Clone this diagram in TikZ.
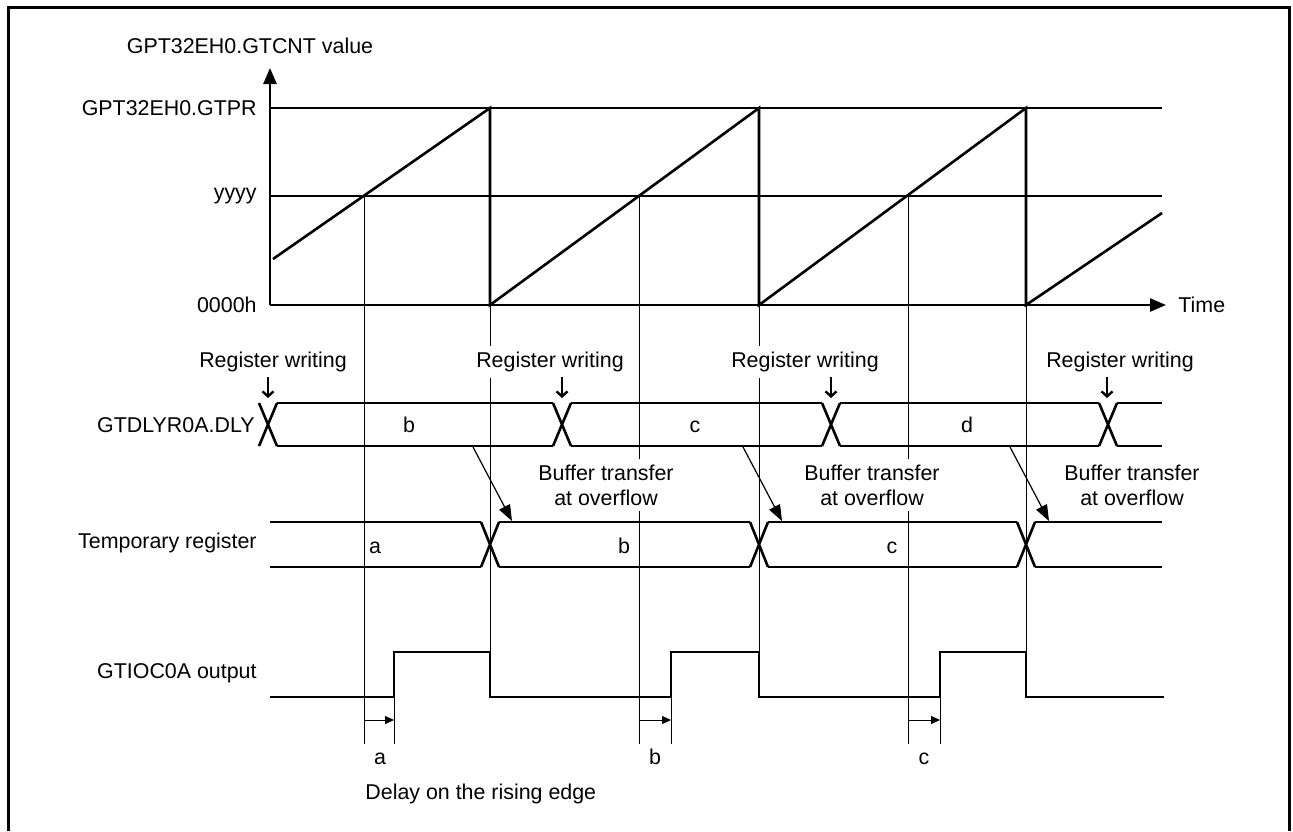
\documentclass[tikz,border=0pt]{standalone}
\usepackage{fontspec}
\setmainfont{Liberation Sans}
\usetikzlibrary{arrows.meta, positioning, calc}

\begin{document}
\begin{tikzpicture}[
    x=0.5pt, y=-0.5pt,
    font=\fontsize{10.7}{12.5}\selectfont,
    wave/.style={line width=1.3pt},
    guide/.style={line width=0.5pt},
    sig/.style={anchor=east, inner sep=0pt},
    val/.style={anchor=base, inner sep=0pt},
    note/.style={fill=white, inner sep=3pt, align=center},
    axis/.style={line width=1.3pt, -{Triangle[length=8pt, width=6.5pt]}},
    wrarrow/.style={line width=1.2pt, -{Straight Barb[length=2.5pt, width=5.5pt]}},
    xfer/.style={line width=0.6pt, -{Triangle[length=8pt, width=6pt]}},
    delay/.style={line width=0.5pt, -{Triangle[length=4.5pt, width=4pt]}}
]
    \useasboundingbox (0,0) rectangle (1293,831);
    \draw[line width=1.5pt] (8,831) -- (8,7) -- (1289,7) -- (1289,831);

    % guide lines
    \draw[guide] (364,196) -- (364,744);
    \draw[guide] (639,196) -- (639,744);
    \draw[guide] (908,196) -- (908,744);
    \draw[guide] (394,697) -- (394,744);
    \draw[guide] (671,697) -- (671,744);
    \draw[guide] (940,697) -- (940,744);
    \foreach \xd in {490,759,1026}
        \draw[guide] (\xd,305) -- (\xd,652);

    % counter
    \coordinate (orig) at (270,305);
    \coordinate (ytop) at (270,68);
    \coordinate (xend) at (1166,305);
    \draw[axis] (orig) -- (ytop);
    \draw[axis] (orig) -- (xend);
    \node[anchor=south, inner sep=2pt] (cntlbl) at (250,58) {GPT32EH0.GTCNT value};
    \node[anchor=west, inner sep=6pt] (timelbl) at (xend) {Time};
    \draw[wave] (270,108) -- (1162,108);
    \draw[wave] (270,196) -- (1162,196);
    \node[sig] (gtpr) at (257,108) {GPT32EH0.GTPR};
    \node[sig] (yyyy) at (257,196) {yyyy};
    \node[sig] (zero) at (257,305) {0000h};
    \draw[wave] (273,259) -- (490,108) -- (490,305) -- (759,108) -- (759,305)
        -- (1026,108) -- (1026,305) -- (1162,213);

    % GTDLYR0A.DLY
    \node[sig] (dly) at (255,425) {GTDLYR0A.DLY};
    \foreach \xc in {268,562,831,1108}
        \draw[wave] (\xc-9,403) -- (\xc+9,446) (\xc-9,446) -- (\xc+9,403);
    \foreach \xa/\xb in {277/553, 571/822, 840/1099, 1117/1162}
        \draw[wave] (\xa,403) -- (\xb,403) (\xa,446) -- (\xb,446);
    \node[val] (dlyb) at (409,432) {b};
    \node[val] (dlyc) at (695,432) {c};
    \node[val] (dlyd) at (967,432) {d};

    % temporary register
    \node[sig] (tmp) at (257,543) {Temporary register};
    \foreach \xc in {490,759,1026}
        \draw[wave] (\xc-9,522) -- (\xc+9,567) (\xc-9,567) -- (\xc+9,522);
    \foreach \xa/\xb in {270/481, 499/750, 768/1017, 1035/1162}
        \draw[wave] (\xa,522) -- (\xb,522) (\xa,567) -- (\xb,567);
    \node[val] (tmpa) at (375,553) {a};
    \node[val] (tmpb) at (624,553) {b};
    \node[val] (tmpc) at (892,553) {c};

    % GTIOC0A output
    \node[sig] (out) at (257,673) {GTIOC0A output};
    \draw[wave] (270,697) -- (394,697) -- (394,652) -- (490,652) -- (490,697)
        -- (671,697) -- (671,652) -- (759,652) -- (759,697) -- (940,697)
        -- (940,652) -- (1026,652) -- (1026,697) -- (1164,697);

    % register writing
    \foreach \i/\xl/\xa in {1/273/268, 2/550/562, 3/805/831, 4/1120/1107} {
        \node[note] (wr\i) at (\xl,362) {Register writing};
        \coordinate (wrs\i) at (\xa,377);
        \coordinate (wre\i) at (\xa,398);
        \draw[wrarrow] (wrs\i) -- (wre\i);
    }

    % buffer transfer
    \foreach \i/\xl/\xa in {1/606/473, 2/872/743, 3/1132/1010} {
        \node[note] (bt\i) at (\xl,485) {Buffer transfer\\at overflow};
        \coordinate (bts\i) at (\xa,447);
        \coordinate (bte\i) at (\xa+39,521);
        \draw[xfer] (bts\i) -- (bte\i);
    }

    % delay on the rising edge
    \foreach \i/\xa/\xb/\t in {1/364/394/a, 2/639/671/b, 3/908/940/c} {
        \coordinate (ds\i) at (\xa,720);
        \coordinate (de\i) at (\xb,720);
        \draw[delay] (ds\i) -- (de\i);
        \node[val] (dl\i) at (\xa+16,764) {\t};
    }
    \node[anchor=west, inner sep=0pt] (dlycap) at (365,794) {Delay on the rising edge};
\end{tikzpicture}
\end{document}
